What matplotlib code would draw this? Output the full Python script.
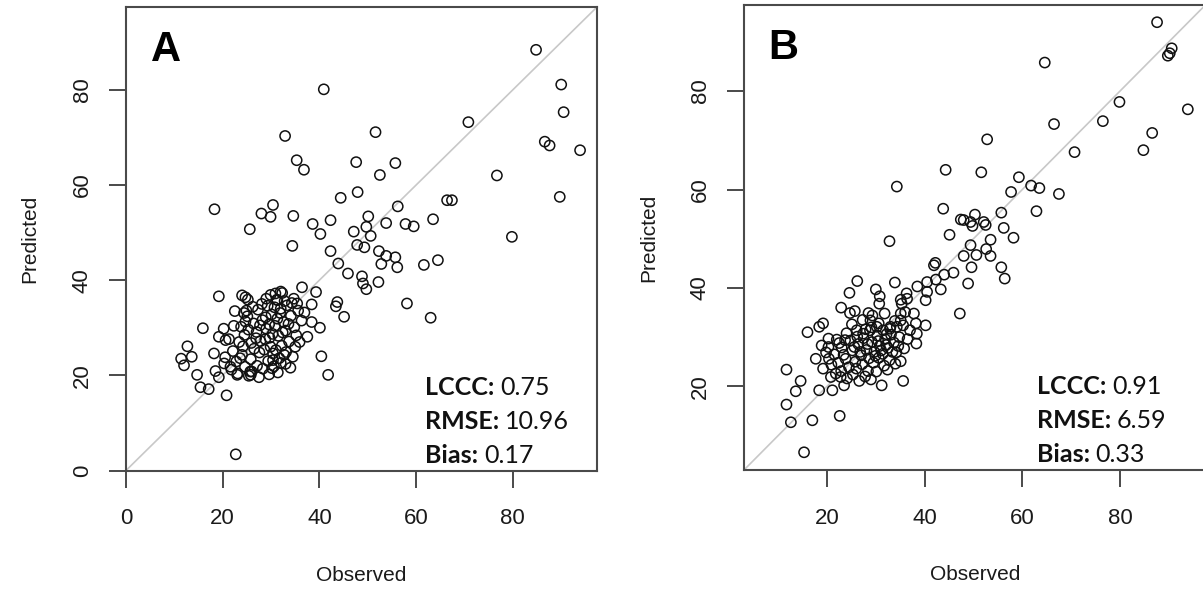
#!/usr/bin/env python3
import numpy as np
import matplotlib
matplotlib.use('Agg')
from matplotlib import rcParams, pyplot as pp

################################################################################
# Observed vs predicted (obs, pred)
pts_a = [
	(84.8,88.4),(90.0,81.1),(90.5,75.3),(93.9,67.3),(86.6,69.1),(87.6,68.3),(89.7,57.5),(70.8,73.2),(76.7,62.0),(79.8,49.1),
	(40.9,80.1),(32.9,70.3),(51.6,71.1),(35.3,65.2),(36.8,63.2),(47.6,64.8),(55.7,64.6),(52.5,62.1),(47.9,58.5),(44.4,57.3),
	(18.3,54.9),(30.4,55.8),(28.0,54.0),(29.9,53.3),(34.6,53.5),(25.6,50.7),(38.6,51.8),(42.3,52.6),(40.2,49.7),(47.1,50.2),
	(50.1,53.4),(49.7,51.2),(50.6,49.3),(56.2,55.5),(53.8,52.0),(57.8,51.8),(59.5,51.3),(63.5,52.8),(66.4,56.8),(67.4,56.8),
	(34.4,47.2),(42.3,46.1),(47.8,47.4),(49.3,46.9),(52.3,46.1),(53.8,45.1),(55.7,44.8),(52.8,43.4),(56.1,42.7),(61.6,43.2),
	(64.5,44.2),(43.9,43.5),(45.9,41.4),(48.8,40.8),(49.0,39.3),(49.7,38.1),(52.2,39.6),(58.1,35.1),(63.0,32.1),(40.4,24.0),
	(41.8,20.1),(22.7,3.4),(19.2,36.6),(24.0,36.8),(24.7,36.4),(25.2,35.9),(15.9,29.9),(12.7,26.1),(13.6,23.9),(11.4,23.5),
	(12.0,22.1),(14.7,20.1),(15.4,17.5),(17.1,17.1),(20.8,15.8),(18.2,24.6),(18.5,20.9),(19.2,19.6),(35.9,27.0),(37.5,28.1),
	(38.4,31.2),(40.1,30.0),(43.7,35.4),(43.4,34.5),(45.1,32.3),(36.4,38.5),(39.3,37.5),(38.4,34.9),(34.7,36.1),(35.4,35.1),
	(30.9,37.2),(32.3,37.3),(20.2,29.8),(19.2,28.1),(22.3,30.4),(20.6,27.4),(20.3,22.5),(21.6,21.8),(23.0,20.1),(25.8,20.1),
	(25.7,20.8),(30.2,21.5),(32.0,22.6),(32.7,24.3),(30.4,23.2),(24.4,33.1),(24.7,31.3),(29.9,36.9),(31.3,35.8),(32.0,37.6),
	(22.5,33.5),(23.8,30.2),(24.5,28.5),(25.1,32.4),(25.9,26.8),(26.4,30.9),(27.0,29.1),(27.3,33.8),(27.8,27.2),(28.2,31.6),
	(28.6,25.4),(29.0,29.8),(29.3,34.6),(29.7,27.9),(30.1,32.8),(30.4,24.6),(30.8,30.4),(31.2,35.9),(31.5,28.3),(31.9,33.1),
	(32.2,26.2),(32.6,31.2),(33.0,29.4),(33.3,34.7),(33.7,27.1),(34.1,32.5),(34.5,23.9),(34.8,30.1),(35.2,28.4),(35.6,33.6),
	(21.3,27.6),(22.1,25.1),(22.8,22.9),(23.4,27.0),(24.0,24.3),(24.6,21.8),(25.3,29.6),(25.8,23.4),(26.5,25.6),(27.1,22.0),
	(27.6,24.8),(28.3,21.4),(28.8,27.6),(29.4,23.0),(29.9,26.0),(30.6,21.9),(31.0,25.3),(31.7,23.6),(32.4,29.0),(33.1,24.9),
	(20.5,23.8),(21.8,21.2),(23.1,20.4),(24.2,26.1),(26.0,20.8),(26.9,27.8),(27.7,30.5),(28.9,32.2),(29.6,30.7),(30.3,28.7),
	(31.3,31.9),(32.0,34.0),(32.8,35.6),(33.6,30.8),(34.3,35.2),(30.7,34.3),(29.0,36.1),(28.1,35.0),(26.2,34.4),(24.9,33.6),
	(35.0,26.0),(36.3,31.5),(36.9,33.2),(34.0,21.6),(33.0,22.4),(31.4,20.6),(29.6,20.2),(27.5,19.6),(25.4,19.9),(23.6,23.6),
]
pts_b = [
	(87.6,94.0),(90.6,88.7),(89.8,87.2),(90.2,87.7),(64.6,85.8),(79.9,77.8),(93.9,76.3),(76.5,73.9),(66.5,73.3),(86.6,71.5),
	(84.8,68.0),(70.7,67.6),(52.8,70.2),(44.3,64.0),(51.6,63.5),(34.3,60.6),(59.3,62.5),(61.8,60.8),(63.5,60.3),(57.7,59.5),
	(67.5,59.1),(62.9,55.6),(43.8,56.1),(55.7,55.3),(47.4,53.9),(48.0,53.8),(50.3,54.9),(49.4,53.4),(52.1,53.4),(52.5,52.8),
	(49.8,52.6),(56.2,52.2),(58.2,50.2),(45.1,50.8),(32.8,49.5),(53.5,49.8),(49.4,48.7),(52.6,47.9),(48.0,46.5),(50.6,46.7),
	(53.5,46.5),(55.7,44.2),(56.4,41.9),(49.6,44.2),(48.9,40.9),(45.9,43.1),(44.0,42.7),(42.2,45.1),(41.9,44.6),(47.2,34.8),
	(43.3,39.7),(42.3,41.7),(40.5,41.2),(38.5,40.3),(40.2,37.5),(40.5,39.2),(36.3,38.9),(35.1,37.6),(36.4,37.8),(33.9,41.1),
	(26.2,41.4),(24.6,39.0),(30.0,39.7),(30.8,38.3),(30.7,36.8),(31.8,34.8),(29.3,34.4),(28.9,33.4),(30.6,32.8),(22.9,36.0),
	(24.7,34.9),(25.7,35.3),(16.0,31.0),(18.4,32.1),(19.2,32.8),(35.1,34.8),(37.8,34.8),(38.2,32.8),(40.2,32.4),(38.4,30.7),
	(38.3,28.7),(35.1,33.4),(33.0,32.1),(35.8,27.7),(35.1,25.1),(35.6,21.1),(31.2,20.2),(11.7,23.4),(14.6,21.1),(13.6,19.0),
	(11.7,16.3),(12.6,12.7),(17.0,13.1),(22.6,14.0),(15.3,6.6),(17.7,25.6),(19.2,23.6),(18.4,19.2),(21.1,19.2),(23.5,20.2),
	(20.8,21.9),(22.8,21.9),(36.0,35.1),(35.3,36.8),(20.3,29.7),(22.0,29.5),(23.7,29.4),(20.3,28.0),(26.1,31.4),(27.4,30.7),
	(28.8,31.4),(30.2,32.1),(31.5,31.4),(32.9,31.7),(34.3,32.1),(35.6,32.4),(37.0,31.4),
	(21.5,26.5),(22.3,24.8),(23.0,27.9),(23.8,25.6),(24.5,23.9),(25.2,27.3),(25.8,25.0),(26.4,28.6),(27.0,26.3),(27.5,29.8),
	(28.1,27.4),(28.6,25.7),(29.2,29.0),(29.7,27.0),(30.3,30.3),(30.8,28.2),(31.4,26.6),(31.9,29.6),(32.5,27.8),(33.1,30.5),
	(33.7,28.9),(34.2,26.9),(34.8,30.0),(26.0,23.6),(27.2,24.5),(28.4,23.1),(29.5,24.8),(30.6,25.8),(31.7,24.2),(32.8,25.3),
	(20.9,24.4),(21.8,22.6),(22.9,23.1),(24.1,21.6),(25.3,22.4),(26.6,21.1),(27.8,22.0),(29.0,21.4),(30.1,23.0),(24.8,29.3),
	(26.2,30.1),(27.9,31.6),(29.1,32.0),(30.5,29.2),(32.1,28.4),(33.4,27.0),(34.6,28.2),(23.4,26.4),(25.6,28.0),(28.3,28.6),
	(29.9,26.2),(31.1,27.3),(32.2,30.6),(26.8,27.0),(24.0,30.8),(22.5,28.8),(19.8,26.9),(20.4,25.6),(18.9,28.3),(33.9,33.3),
	(27.3,33.5),(25.1,32.6),(28.5,34.9),(32.4,23.4),(36.5,29.6),(34.0,24.6),
]
obs_a, pred_a = np.array(pts_a).T
obs_b, pred_b = np.array(pts_b).T

panel_tags = ['A', 'B']
stat_names = ['LCCC:', 'RMSE:', 'Bias:']
stats_a = ['0.75', '10.96', '0.17']
stats_b = ['0.91', '6.59', '0.33']
ticks_a = [0, 20, 40, 60, 80]
ticks_b = [20, 40, 60, 80]
lims_a = (0, 97.4)
lims_b = (3.0, 97.5)

################################################################################
rcParams['font.family'] = ['Liberation Sans', 'DejaVu Sans']
W, H = 1203, 590
fig = pp.figure(figsize=(W/100, H/100), dpi=100)

# axes boxes in pixels (left, top, right, bottom)
boxes = [(126, 7, 597, 470.5), (744, 5, 1205.4, 470)]

def px_axes(b):
	l, t, r, bt = b
	return fig.add_axes([l/W, 1 - bt/H, (r - l)/W, (bt - t)/H])

panels = [
	(obs_a, pred_a, ticks_a, lims_a, stats_a),
	(obs_b, pred_b, ticks_b, lims_b, stats_b),
]
box_col = '#4a4a4a'

for i, (xo, yp, tks, lims, st) in enumerate(panels):
	ax = px_axes(boxes[i])
	ax.axline((lims[0], lims[0]), slope=1, color='#c8c8c8', lw=1.2, zorder=1)
	ax.scatter(xo, yp, s=54, facecolors='none', edgecolors='#111111',
		linewidths=1.1, zorder=2)
	ax.set_xlim(lims)
	ax.set_ylim(lims)
	ax.set_xticks(tks)
	ax.set_yticks(tks)
	for sp in ax.spines.values():
		sp.set_color(box_col)
		sp.set_linewidth(1.5)
	ax.tick_params(axis='both', length=12, width=1.4, color=box_col,
		labelsize=16, labelcolor='#1a1a1a')
	ax.tick_params(axis='x', pad=15)
	ax.tick_params(axis='y', pad=12, labelrotation=90)
	for lb in ax.get_yticklabels():
		lb.set_va('center')

	ax.set_xlabel('Observed', fontsize=15, color='#1a1a1a')
	ax.set_ylabel('Predicted', fontsize=15, color='#1a1a1a')
	ax.xaxis.set_label_coords(0.5, -0.205)
	ax.yaxis.set_label_coords(-0.185, 0.5)

	ax.text(0.052, 0.95, panel_tags[i], transform=ax.transAxes,
		fontsize=30, fontweight='bold', ha='left', va='top')

	# stats block, bold name followed by regular value
	ys = [0.163, 0.090, 0.017]
	for nm, val, y in zip(stat_names, st, ys):
		t = ax.text(0.635, y, nm, transform=ax.transAxes, fontsize=18,
			fontweight='bold', family=['Lato', 'DejaVu Sans'],
			ha='left', va='baseline', color='#111111')
		ax.annotate(val, xy=(1, 0), xycoords=t, xytext=(4, 0),
			textcoords='offset points', fontsize=18,
			family=['Lato', 'DejaVu Sans'], ha='left', va='bottom',
			color='#111111')

fig.savefig('out.png', dpi=100)
